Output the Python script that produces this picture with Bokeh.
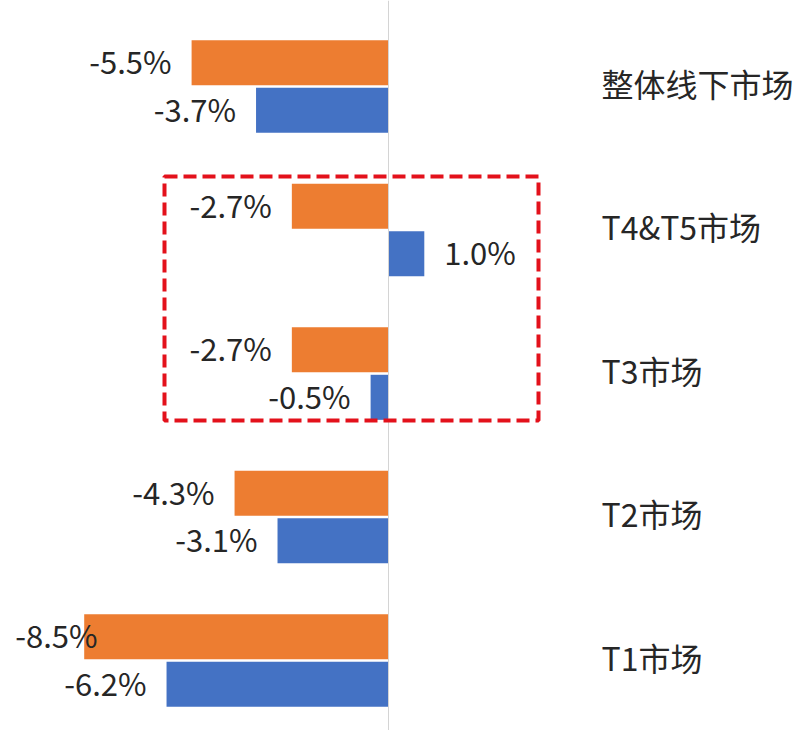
from bokeh.plotting import figure
from bokeh.models import ColumnDataSource, Range1d, Span, BoxAnnotation
from bokeh.transform import dodge
from bokeh.core.properties import value
from bokeh.embed import file_html
from bokeh.resources import INLINE

# ---- data ----
categories = ["整体线下市场", "T4&T5市场", "T3市场", "T2市场", "T1市场"]
orange_vals = [-5.5, -2.7, -2.7, -4.3, -8.5]
blue_vals = [-3.7, 1.0, -0.5, -3.1, -6.2]

# ---- style / layout ----
ORANGE = "#ED7D31"
BLUE = "#4472C4"
TEXT = "#262626"
FONT = "Noto Sans CJK SC"
W, H = 797, 730
PX_PER_UNIT = 35.8          # pixels per 1 %
ZERO_PX = 388               # pixel position of x = 0
CAT_PX = 143.5              # pixels per category
FIRST_PX = 86               # pixel position of first category centre
x_start = -ZERO_PX / PX_PER_UNIT
x_end = (W - ZERO_PX) / PX_PER_UNIT
y_top = -FIRST_PX / CAT_PX
y_bottom = (H - FIRST_PX) / CAT_PX
OFF = 0.166
BAR_H = 0.314

p = figure(width=W, height=H, output_backend="svg", toolbar_location=None,
           x_range=Range1d(x_start, x_end), y_range=Range1d(y_bottom, y_top),
           min_border=0, min_border_left=0, min_border_right=0,
           min_border_top=0, min_border_bottom=0)
p.axis.visible = False
p.grid.visible = False
p.outline_line_color = None
p.background_fill_color = "white"
p.border_fill_color = "white"

idx = list(range(len(categories)))
src = ColumnDataSource(dict(y=idx, cat=categories, orange=orange_vals, blue=blue_vals))

p.add_layout(Span(location=0, dimension="height", line_color="#d4d4d4", line_width=1))

p.hbar(y=dodge("y", -OFF, range=p.y_range), left=0, right="orange", height=BAR_H,
       source=src, fill_color=ORANGE, line_color=None)
p.hbar(y=dodge("y", OFF, range=p.y_range), left=0, right="blue", height=BAR_H,
       source=src, fill_color=BLUE, line_color=None)

# value labels
gap = 20 / PX_PER_UNIT
min_right = x_start + 97 / PX_PER_UNIT
lab_x, lab_y, lab_t, lab_a = [], [], [], []
for i in idx:
    for v, off in ((orange_vals[i], -OFF), (blue_vals[i], OFF)):
        if v < 0:
            lab_x.append(max(v - gap, min_right))
            lab_a.append("right")
        else:
            lab_x.append(v + gap)
            lab_a.append("left")
        lab_y.append(i + off)
        lab_t.append(f"{v:.1f}%")
lsrc = ColumnDataSource(dict(x=lab_x, y=lab_y, t=lab_t, a=lab_a))
p.text(x="x", y="y", text="t", text_align="a", text_baseline="middle",
       y_offset=-2,
       text_font=value(FONT), text_font_size="31px", text_color=TEXT, source=lsrc)

# category labels
cat_x = [(601 - ZERO_PX) / PX_PER_UNIT] * len(categories)
csrc = ColumnDataSource(dict(x=cat_x, y=idx, t=categories))
p.text(x="x", y="y", text="t", text_align="left", text_baseline="middle",
       y_offset=-4,
       text_font=value(FONT), text_font_size="32px", text_color=TEXT, source=csrc)

# red dashed highlight box around T4&T5 and T3
p.add_layout(BoxAnnotation(left=(164 - ZERO_PX) / PX_PER_UNIT,
                           right=(538 - ZERO_PX) / PX_PER_UNIT,
                           top=(176 - FIRST_PX) / CAT_PX,
                           bottom=(420 - FIRST_PX) / CAT_PX,
                           fill_alpha=0, line_color="#E3111B", line_alpha=1.0,
                           line_width=4, line_dash="13 6"))

open("out.html", "w").write(file_html(p, INLINE))
